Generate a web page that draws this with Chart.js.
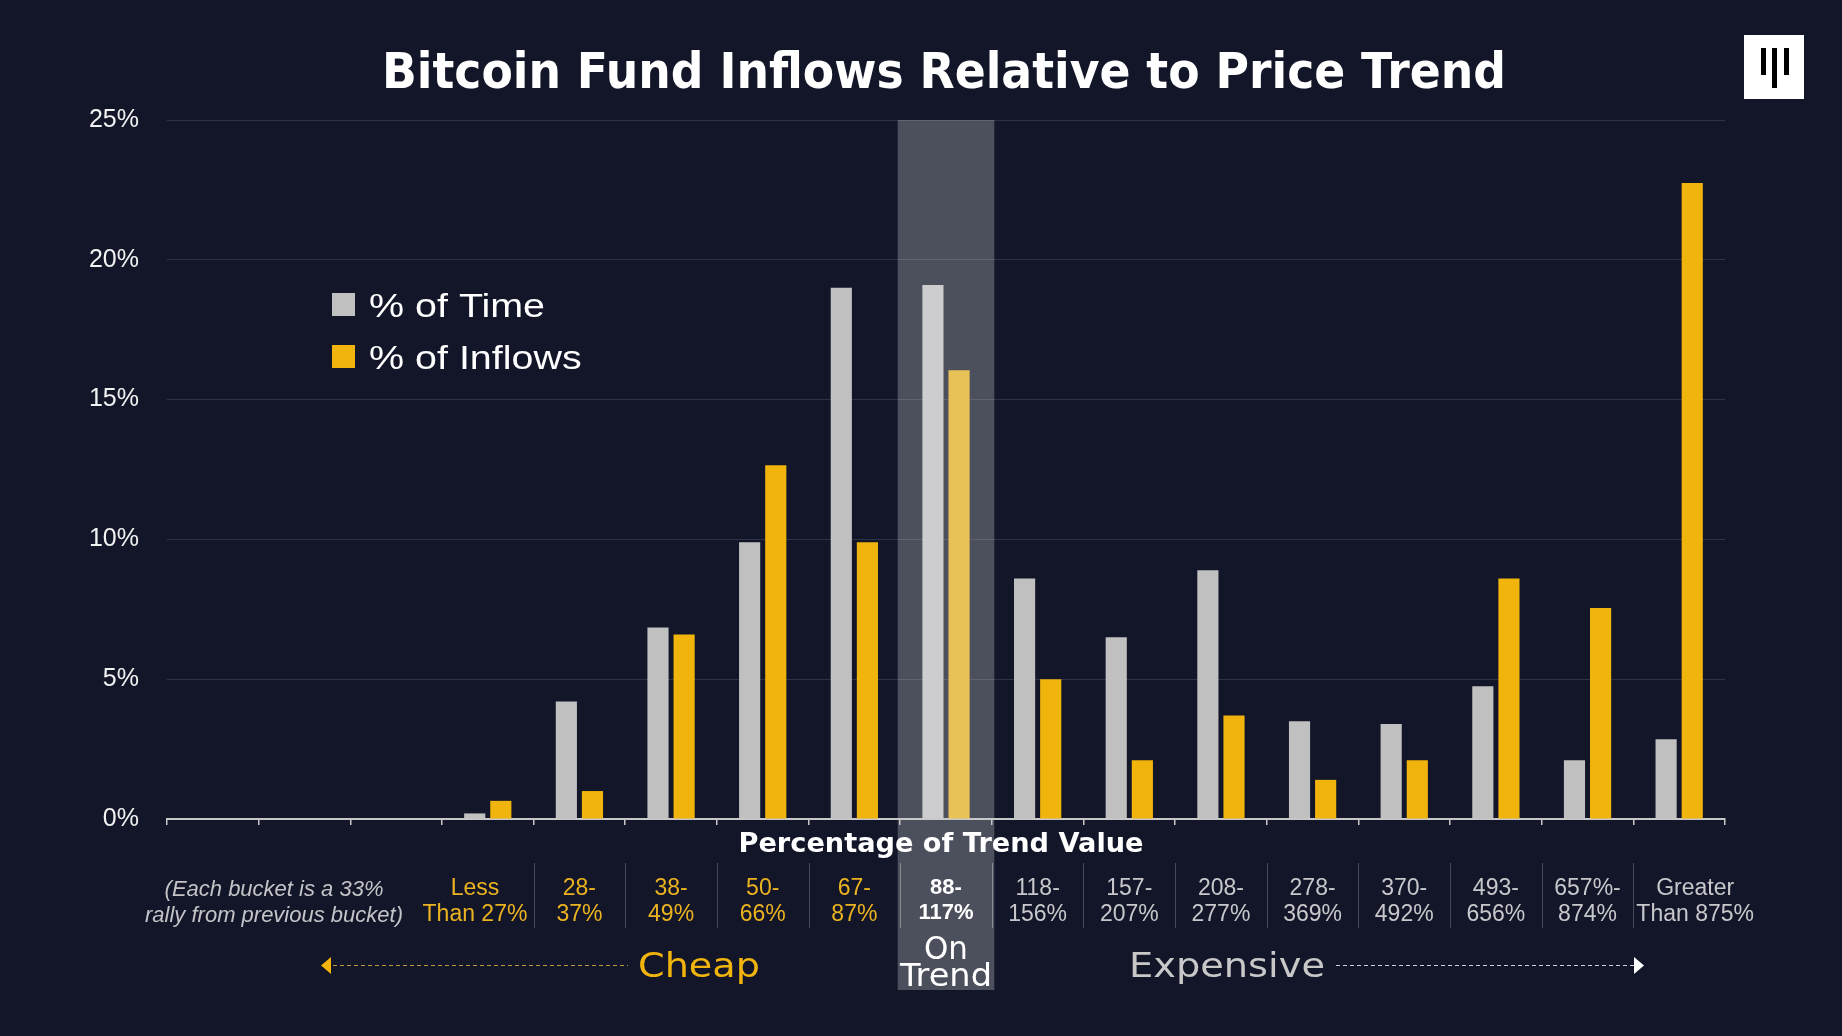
<!DOCTYPE html>
<html>
<head>
<meta charset="utf-8">
<script src="https://cdn.jsdelivr.net/npm/chart.js@4.4.1/dist/chart.umd.min.js"></script>
<style>
  html, body { margin: 0; padding: 0; background: #121628; }
  #wrap { width: 1842px; height: 1036px; }
</style>
</head>
<body>
<div id="wrap"><canvas id="myChart" width="1842" height="1036"></canvas></div>
<script>
// buckets of price relative to trend (first three slots are left empty in the original)
// padding spaces nudge the two long end labels the way the original sets them
const buckets = [
  '', '', '',
  ['Less    ', 'Than 27%    '], ['28-', '37%'], ['38-', '49%'], ['50-', '66%'], ['67-', '87%'],
  ['88-', '117%'],
  ['118-', '156%'], ['157-', '207%'], ['208-', '277%'], ['278-', '369%'],
  ['370-', '492%'], ['493-', '656%'], ['657%-', '874%'], ['     Greater', '     Than 875%']
];
const pctTime    = [null, null, null, 0.2, 4.2, 6.85, 9.9, 19.0, 19.1, 8.6, 6.5, 8.9, 3.5, 3.4, 4.75, 2.1, 2.85];
const pctInflows = [null, null, null, 0.65, 1.0, 6.6, 12.65, 9.9, 16.05, 5.0, 2.1, 3.7, 1.4, 2.1, 8.6, 7.55, 22.75];
const yTicks = [0, 5, 10, 15, 20, 25];

const onTrend = 8;          // index of the "On Trend" bucket
const cheapFrom = 3, cheapTo = 7;

const BG = '#121628';
const GREY = '#c0c0c0', GREY_HI = '#cdcdcf';
const GOLD = '#f0b40c', GOLD_HI = '#e9c257';
const SANS = '"Liberation Sans", Arial, sans-serif';
const WIDE = '"DejaVu Sans", Verdana, sans-serif';

function fitText(ctx, text, x, y, width, font, color) {
  ctx.save();
  ctx.font = font;
  const w = ctx.measureText(text).width;
  ctx.translate(x, y);
  ctx.scale(width / w, 1);
  ctx.fillStyle = color;
  ctx.textAlign = 'center';
  ctx.textBaseline = 'alphabetic';
  ctx.fillText(text, 0, 0);
  ctx.restore();
}

function dashedArrow(ctx, x1, x2, y, lineColor, headColor, dir) {
  ctx.save();
  ctx.strokeStyle = lineColor;
  ctx.lineWidth = 1;
  ctx.setLineDash([4, 3]);
  ctx.beginPath();
  ctx.moveTo(x1, y + 0.5);
  ctx.lineTo(x2, y + 0.5);
  ctx.stroke();
  ctx.setLineDash([]);
  ctx.fillStyle = headColor;
  const tip = dir < 0 ? x1 - 12 : x2 + 10;
  ctx.beginPath();
  ctx.moveTo(tip, y + 0.5);
  ctx.lineTo(tip - dir * 10, y - 8);
  ctx.lineTo(tip - dir * 10, y + 9);
  ctx.closePath();
  ctx.fill();
  ctx.restore();
}

const decor = {
  id: 'decor',
  beforeDraw(chart) {
    const { ctx, width, height, chartArea, scales } = chart;
    ctx.save();
    ctx.fillStyle = BG;
    ctx.fillRect(0, 0, width, height);
    // on-trend band
    const x = scales.x;
    const half = (x.getPixelForValue(1) - x.getPixelForValue(0)) / 2;
    const cx = x.getPixelForValue(onTrend);
    ctx.fillStyle = '#4c4f5c';
    ctx.fillRect(cx - half - 2.5, chartArea.top, 2 * half + 5, 990 - chartArea.top);
    ctx.restore();
  },
  afterDraw(chart) {
    const { ctx, scales } = chart;
    const x = scales.x;
    const half = (x.getPixelForValue(1) - x.getPixelForValue(0)) / 2;
    ctx.save();

    // title
    fitText(ctx, 'Bitcoin Fund Inflows Relative to Price Trend', 944, 88, 1124, 'bold 50px ' + WIDE, '#ffffff');

    // logo
    ctx.fillStyle = '#ffffff';
    ctx.fillRect(1744, 35, 60, 64);
    ctx.fillStyle = '#000000';
    ctx.fillRect(1761, 48, 5, 27);
    ctx.fillRect(1772, 48, 5, 40);
    ctx.fillRect(1784, 48, 5, 27);

    // legend
    const ds = chart.data.datasets;
    ds.forEach((d, i) => {
      const y = 293 + i * 52;
      ctx.fillStyle = d.legendColor;
      ctx.fillRect(332, y, 23, 23);
      ctx.save();
      ctx.font = '34px ' + SANS;
      ctx.translate(369, y + 24);
      ctx.scale(1.16, 1);
      ctx.fillStyle = '#ffffff';
      ctx.textAlign = 'left';
      ctx.fillText(d.label, 0, 0);
      ctx.restore();
    });

    // axis title
    fitText(ctx, 'Percentage of Trend Value', 941, 852, 405, 'bold 27px ' + WIDE, '#ffffff');

    // dividers between bucket labels
    for (let i = cheapFrom + 1; i < buckets.length; i++) {
      const bx = Math.round(x.getPixelForValue(i) - half) + 0.5;
      ctx.strokeStyle = (i === onTrend || i === onTrend + 1) ? 'rgba(255,255,255,0.35)' : 'rgba(255,255,255,0.22)';
      ctx.lineWidth = 1;
      ctx.beginPath();
      ctx.moveTo(bx, 863);
      ctx.lineTo(bx, 928);
      ctx.stroke();
    }

    // note on the bucket sizes
    ctx.font = 'italic 22px ' + SANS;
    ctx.fillStyle = '#c4c4c8';
    ctx.textAlign = 'center';
    ctx.fillText('(Each bucket is a 33%', 274, 896);
    ctx.fillText('rally from previous bucket)', 274, 922);

    // cheap / on trend / expensive
    fitText(ctx, 'Cheap', 699, 977, 122, '34px ' + WIDE, GOLD);
    dashedArrow(ctx, 333, 628, 965, '#b8993c', GOLD, -1);
    const ct = x.getPixelForValue(onTrend);
    fitText(ctx, 'On', ct, 959, 44, '32px ' + WIDE, '#ffffff');
    fitText(ctx, 'Trend', ct, 986, 92, '32px ' + WIDE, '#ffffff');
    fitText(ctx, 'Expensive', 1227, 977, 196, '34px ' + WIDE, '#c8c8c8');
    dashedArrow(ctx, 1336, 1634, 965, '#d0d0d0', '#ffffff', 1);

    ctx.restore();
  }
};

const ctx = document.getElementById('myChart').getContext('2d');
const chart = new Chart(ctx, {
  type: 'bar',
  data: {
    labels: buckets,
    datasets: [
      {
        label: '% of Time',
        data: pctTime,
        legendColor: GREY,
        backgroundColor: c => c.dataIndex === onTrend ? GREY_HI : GREY,
        borderWidth: 0,
        categoryPercentage: 0.57,
        barPercentage: 0.81
      },
      {
        label: '% of Inflows',
        data: pctInflows,
        legendColor: GOLD,
        backgroundColor: c => c.dataIndex === onTrend ? GOLD_HI : GOLD,
        borderWidth: 0,
        categoryPercentage: 0.57,
        barPercentage: 0.81
      }
    ]
  },
  options: {
    responsive: false,
    animation: false,
    devicePixelRatio: 1,
    layout: { padding: { left: 0, right: 117, top: 120, bottom: 0 } },
    plugins: {
      legend: { display: false },
      tooltip: { enabled: false },
      title: { display: false }
    },
    scales: {
      x: {
        afterFit: s => { s.height = 217; },
        grid: {
          offset: true,
          drawOnChartArea: false,
          drawTicks: true,
          tickLength: 6,
          color: '#c8c8c8',
          lineWidth: 1.5
        },
        border: { display: true, color: '#c8c8c8', width: 2 },
        ticks: {
          autoSkip: false,
          maxRotation: 0,
          padding: 50,
          color: c => c.index === onTrend ? '#ffffff' : (c.index >= cheapFrom && c.index <= cheapTo ? '#ecb320' : '#c8c8cc'),
          font: c => ({
            family: SANS,
            size: c.index === onTrend ? 22 : 23,
            weight: c.index === onTrend ? 'bold' : 'normal',
            lineHeight: 1.16
          })
        }
      },
      y: {
        min: 0,
        max: 25,
        afterFit: s => { s.width = 167; },
        afterBuildTicks: s => { s.ticks = yTicks.map(v => ({ value: v })); },
        grid: { color: 'rgba(255,255,255,0.12)', lineWidth: 1, drawTicks: false },
        border: { display: false },
        ticks: {
          padding: 28,
          color: '#f2f2f2',
          font: { family: SANS, size: 25 },
          callback: v => v + '%'
        }
      }
    }
  },
  plugins: [decor]
});
</script>
</body>
</html>
